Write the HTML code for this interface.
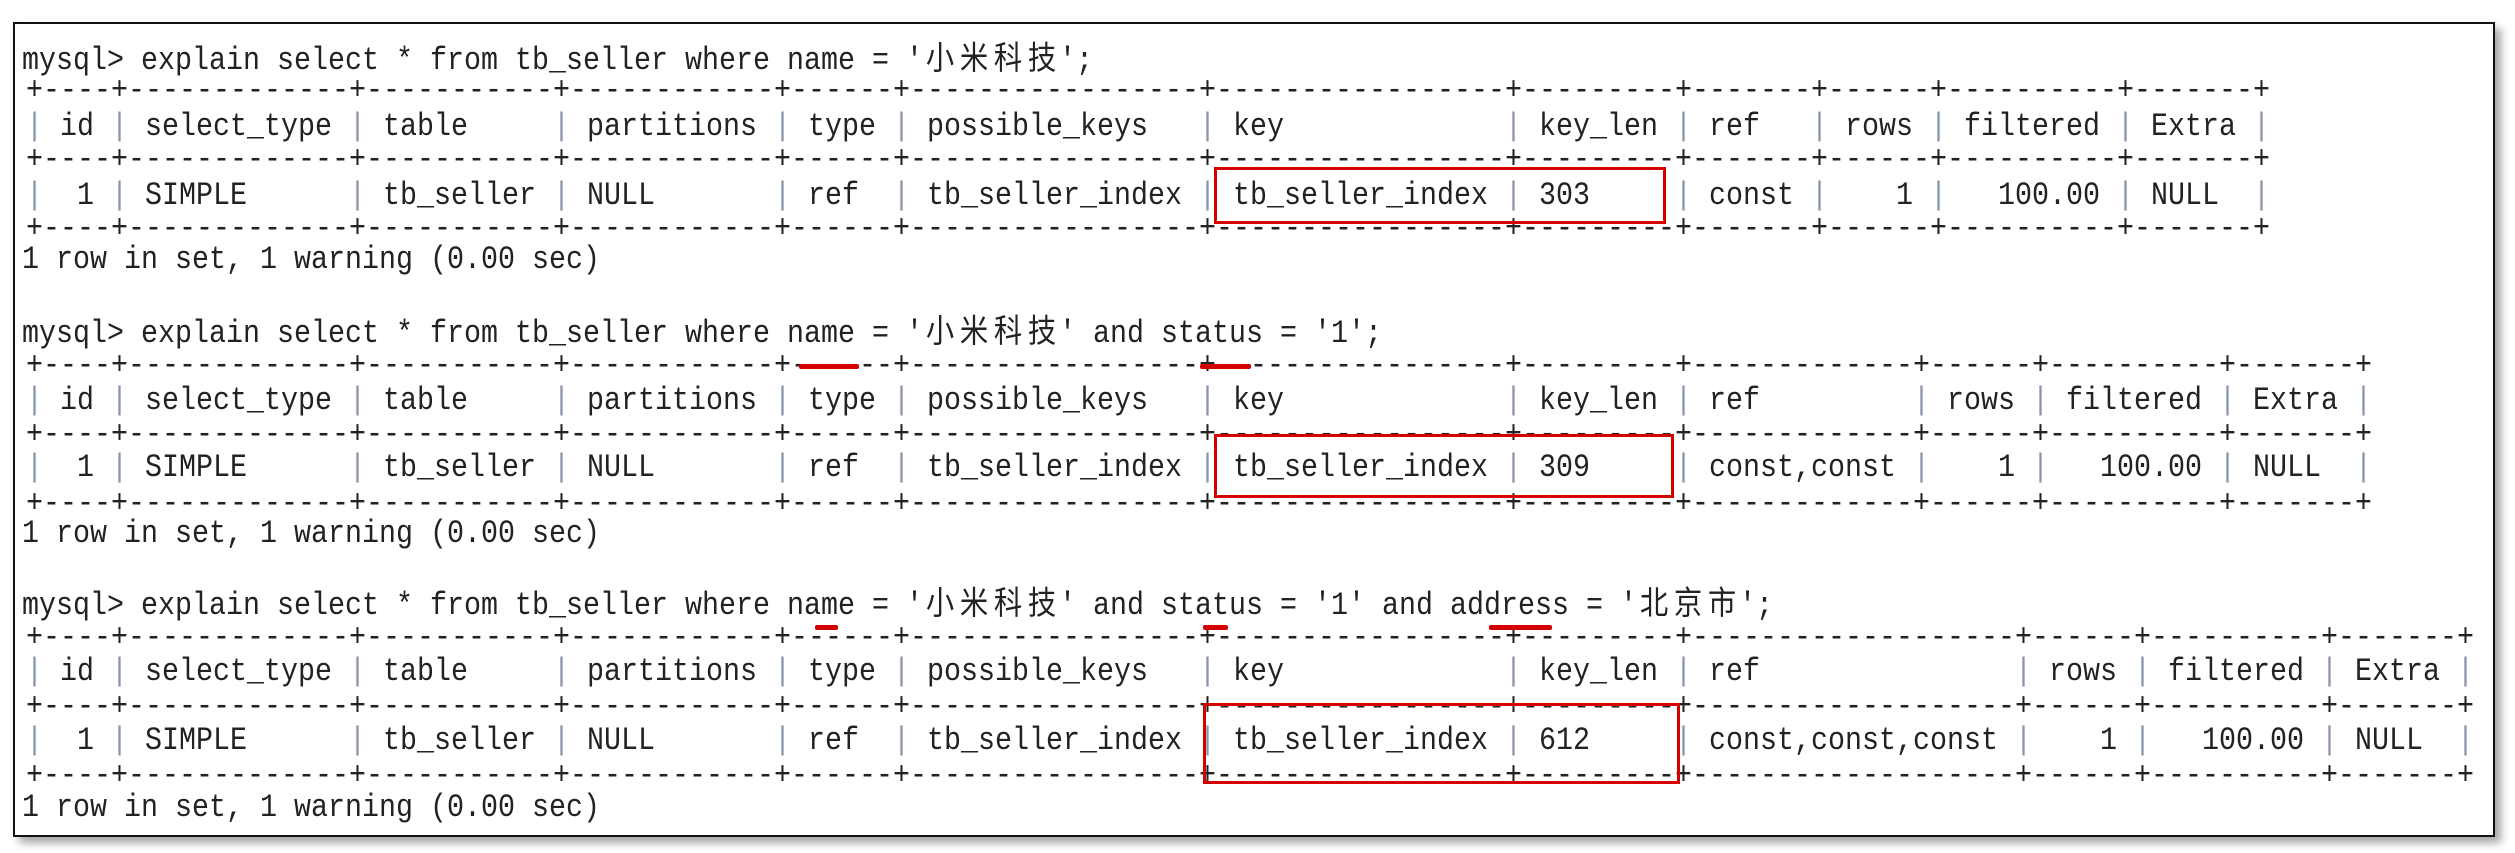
<!DOCTYPE html>
<html><head><meta charset="utf-8"><style>
html,body{margin:0;padding:0;background:#fff;width:2515px;height:853px;overflow:hidden;position:relative}
.frame{position:absolute;left:13px;top:22px;width:2478px;height:811px;border:2px solid #111;box-shadow:6px 6px 8px rgba(0,0,0,0.35);background:#fff;overflow:hidden}
.l{position:absolute;margin:0;font-family:"Liberation Mono","Noto Sans CJK SC",monospace;font-size:28.33px;line-height:34px;height:34px;color:#222;white-space:pre;transform:scaleY(1.15);transform-origin:50% 50%}
.c{display:inline-block;width:34px;text-align:center}
.p{color:#8a96a8}
.box{position:absolute;border:3px solid #d40000;box-sizing:border-box}
.u{position:absolute;height:5px;background:#d40000;border-radius:2px}
</style></head><body>
<div class="frame"></div>
<div class="l" style="left:22px;top:44px">mysql&gt; explain select * from tb_seller where name = '<span class="c">小</span><span class="c">米</span><span class="c">科</span><span class="c">技</span>';</div>
<div class="l" style="left:26px;top:74px">+----+-------------+-----------+------------+------+-----------------+-----------------+---------+-------+------+----------+-------+</div>
<div class="l" style="left:26px;top:110px"><span class="p">|</span> id <span class="p">|</span> select_type <span class="p">|</span> table     <span class="p">|</span> partitions <span class="p">|</span> type <span class="p">|</span> possible_keys   <span class="p">|</span> key             <span class="p">|</span> key_len <span class="p">|</span> ref   <span class="p">|</span> rows <span class="p">|</span> filtered <span class="p">|</span> Extra <span class="p">|</span></div>
<div class="l" style="left:26px;top:143px">+----+-------------+-----------+------------+------+-----------------+-----------------+---------+-------+------+----------+-------+</div>
<div class="l" style="left:26px;top:179px"><span class="p">|</span>  1 <span class="p">|</span> SIMPLE      <span class="p">|</span> tb_seller <span class="p">|</span> NULL       <span class="p">|</span> ref  <span class="p">|</span> tb_seller_index <span class="p">|</span> tb_seller_index <span class="p">|</span> 303     <span class="p">|</span> const <span class="p">|</span>    1 <span class="p">|</span>   100.00 <span class="p">|</span> NULL  <span class="p">|</span></div>
<div class="l" style="left:26px;top:212px">+----+-------------+-----------+------------+------+-----------------+-----------------+---------+-------+------+----------+-------+</div>
<div class="l" style="left:22px;top:243px">1 row in set, 1 warning (0.00 sec)</div>

<div class="l" style="left:22px;top:317px">mysql&gt; explain select * from tb_seller where name = '<span class="c">小</span><span class="c">米</span><span class="c">科</span><span class="c">技</span>' and status = '1';</div>
<div class="l" style="left:26px;top:349px">+----+-------------+-----------+------------+------+-----------------+-----------------+---------+-------------+------+----------+-------+</div>
<div class="l" style="left:26px;top:384px"><span class="p">|</span> id <span class="p">|</span> select_type <span class="p">|</span> table     <span class="p">|</span> partitions <span class="p">|</span> type <span class="p">|</span> possible_keys   <span class="p">|</span> key             <span class="p">|</span> key_len <span class="p">|</span> ref         <span class="p">|</span> rows <span class="p">|</span> filtered <span class="p">|</span> Extra <span class="p">|</span></div>
<div class="l" style="left:26px;top:418px">+----+-------------+-----------+------------+------+-----------------+-----------------+---------+-------------+------+----------+-------+</div>
<div class="l" style="left:26px;top:451px"><span class="p">|</span>  1 <span class="p">|</span> SIMPLE      <span class="p">|</span> tb_seller <span class="p">|</span> NULL       <span class="p">|</span> ref  <span class="p">|</span> tb_seller_index <span class="p">|</span> tb_seller_index <span class="p">|</span> 309     <span class="p">|</span> const,const <span class="p">|</span>    1 <span class="p">|</span>   100.00 <span class="p">|</span> NULL  <span class="p">|</span></div>
<div class="l" style="left:26px;top:487px">+----+-------------+-----------+------------+------+-----------------+-----------------+---------+-------------+------+----------+-------+</div>
<div class="l" style="left:22px;top:517px">1 row in set, 1 warning (0.00 sec)</div>

<div class="l" style="left:22px;top:589px">mysql&gt; explain select * from tb_seller where name = '<span class="c">小</span><span class="c">米</span><span class="c">科</span><span class="c">技</span>' and status = '1' and address = '<span class="c">北</span><span class="c">京</span><span class="c">市</span>';</div>
<div class="l" style="left:26px;top:621px">+----+-------------+-----------+------------+------+-----------------+-----------------+---------+-------------------+------+----------+-------+</div>
<div class="l" style="left:26px;top:655px"><span class="p">|</span> id <span class="p">|</span> select_type <span class="p">|</span> table     <span class="p">|</span> partitions <span class="p">|</span> type <span class="p">|</span> possible_keys   <span class="p">|</span> key             <span class="p">|</span> key_len <span class="p">|</span> ref               <span class="p">|</span> rows <span class="p">|</span> filtered <span class="p">|</span> Extra <span class="p">|</span></div>
<div class="l" style="left:26px;top:690px">+----+-------------+-----------+------------+------+-----------------+-----------------+---------+-------------------+------+----------+-------+</div>
<div class="l" style="left:26px;top:724px"><span class="p">|</span>  1 <span class="p">|</span> SIMPLE      <span class="p">|</span> tb_seller <span class="p">|</span> NULL       <span class="p">|</span> ref  <span class="p">|</span> tb_seller_index <span class="p">|</span> tb_seller_index <span class="p">|</span> 612     <span class="p">|</span> const,const,const <span class="p">|</span>    1 <span class="p">|</span>   100.00 <span class="p">|</span> NULL  <span class="p">|</span></div>
<div class="l" style="left:26px;top:759px">+----+-------------+-----------+------------+------+-----------------+-----------------+---------+-------------------+------+----------+-------+</div>
<div class="l" style="left:22px;top:791px">1 row in set, 1 warning (0.00 sec)</div>

<div class="box" style="left:1214px;top:167px;width:452px;height:57px"></div>
<div class="box" style="left:1214px;top:434px;width:460px;height:64px"></div>
<div class="box" style="left:1203px;top:703px;width:477px;height:81px"></div>

<div class="u" style="left:799px;top:364px;width:60px"></div>
<div class="u" style="left:1200px;top:364px;width:51px"></div>
<div class="u" style="left:815px;top:625px;width:23px"></div>
<div class="u" style="left:1203px;top:625px;width:25px"></div>
<div class="u" style="left:1489px;top:625px;width:63px"></div>
</body></html>
